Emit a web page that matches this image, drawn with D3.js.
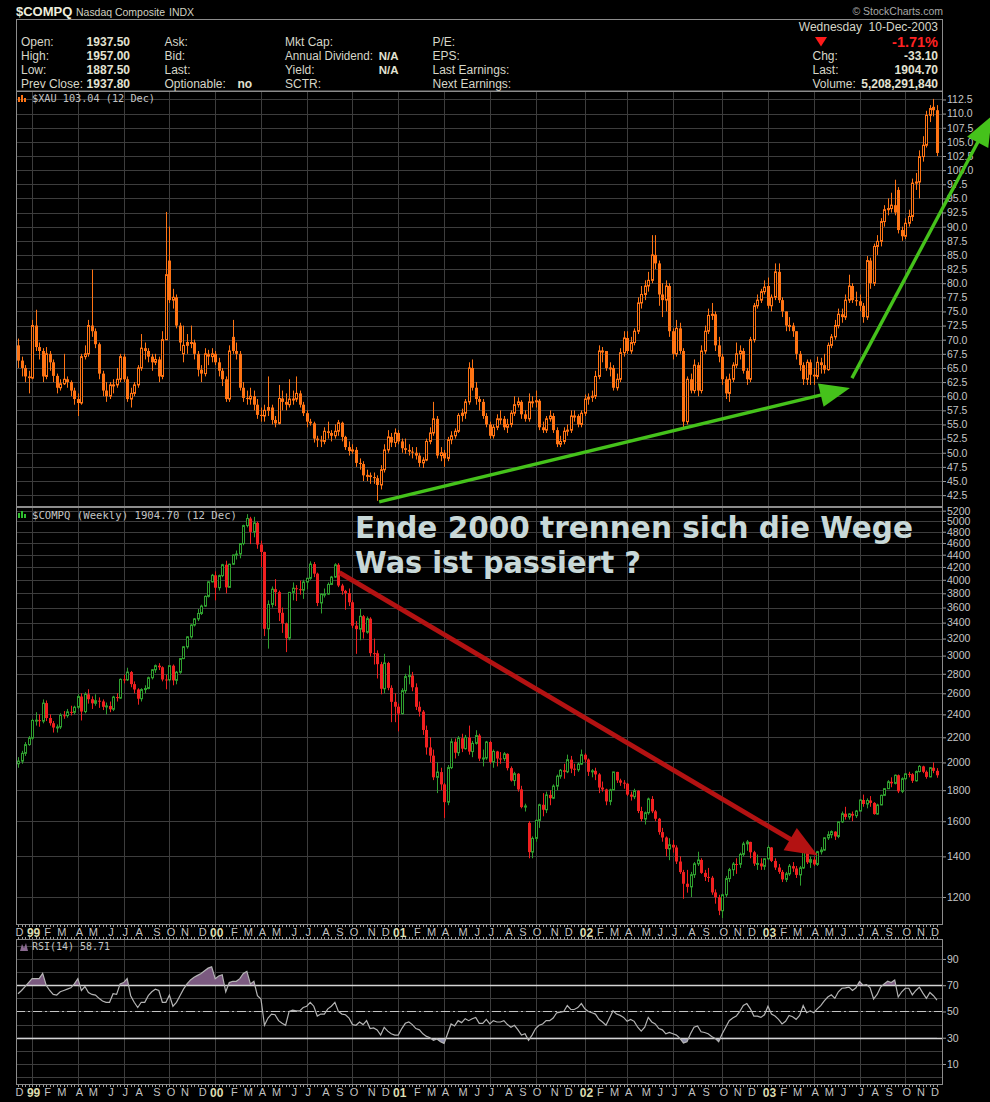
<!DOCTYPE html>
<html>
<head>
<meta charset="utf-8">
<title>$COMPQ vs $XAU</title>
<script src="https://cdn.jsdelivr.net/npm/d3@7/dist/d3.min.js"></script>
<style>
html,body{margin:0;padding:0;background:#000;}
svg{display:block;}
</style>
</head>
<body>
<svg id="chart" width="990" height="1102"></svg>
<script>
// ================= DATA =================
const firstWeek = "1998-12-07";            // Monday of the first weekly bar
const xDomain = ["1998-12-03", "2003-12-20"];
const monthLetters = ["J","F","M","A","M","J","J","A","S","O","N","D"];

const xauTicks = [42.5,45,47.5,50,52.5,55,57.5,60,62.5,65,67.5,70,72.5,75,77.5,80,82.5,85,87.5,90,92.5,95,97.5,100,102.5,105,107.5,110,112.5];
const compqTicks = [1200,1400,1600,1800,2000,2200,2400,2600,2800,3000,3200,3400,3600,3800,4000,4200,4400,4600,4800,5000,5200];
const rsiTicks = [10,30,50,70,90];
const rsiGrid = [0,10,20,30,40,50,60,70,80,90,100];
const xauRange = [40.4, 114.0];
const compqRange = [1079, 5273];
const rsiRange = [-6, 105.2];

// $COMPQ weekly
const compqOpen = [1990,2010,2070,2140,
2193,2345,2348,2339, 2505,2367,2321,2283, 2288,2392,2389,2423,2419, 2466,2568,2426,2590, 2542,2503,2528,2521, 2470,2478,2447,2563, 2553,2741,2736,2818,2692, 2638,2547,2637,2648, 2758,2843,2887,2870, 2740,2736,2887,2731,2816, 2966,3102,3221,3369, 3448,3520,3620,3755,3969,
4069,3882,4064,4235, 3887,4244,4395,4411, 4590,4914,5048,4798,4964, 4573,4446,3321,3643, 3860,3817,3529,3390, 3205,3813,3874,3860,3845, 3966,4023,4246,4094, 3663,3787,3789,3930, 4042,4234,3914,3835,3803, 3673,3361,3317,3483, 3278,3451,3028,3027, 2904,2645,2917,2654,2517,
2471,2407,2626,2770, 2781,2660,2470,2425, 2262,2117,2052,1890,1928, 1840,1720,1961,2163, 2075,2192,2107,2199, 2084,2150,2215,2029,2034, 2161,2004,2085,2030, 2029,2066,1957,1867,1916, 1805,1688,1590,1423, 1499,1605,1703,1671, 1768,1746,1828,1898,1941, 1930,2021,1953,1945,
1987,2059,2022,1930, 1937,1911,1818,1805,1725, 1802,1929,1868,1852, 1845,1770,1756,1796, 1663,1613,1652,1741,1661, 1615,1535,1504,1440, 1463,1448,1373,1319, 1262,1247,1306,1361,1381, 1315,1295,1291,1221, 1199,1139,1210,1287,1331, 1360,1359,1411,1468, 1479,1422,1362,1363,
1348,1387,1448,1376,1342, 1320,1283,1310,1349, 1337,1305,1340,1421, 1369,1383,1358,1425, 1434,1502,1520,1538,1510, 1596,1646,1626,1645, 1634,1663,1734,1708, 1731,1715,1644,1702,1765, 1810,1858,1847,1905, 1792,1880,1915,1912,1865, 1932,1970,1930,1893, 1960,1937];

const compqHigh = [2040,2090,2160,2210,
2360,2420,2400,2540, 2530,2400,2340,2310, 2410,2430,2450,2480,2480, 2590,2600,2610,2640, 2570,2590,2560,2540, 2510,2520,2575,2600, 2750,2790,2865,2830,2720, 2650,2650,2680,2770, 2850,2900,2915,2880, 2790,2890,2900,2830,2970, 3110,3230,3380,3460, 3580,3640,3770,3980,4090,
4130,4080,4250,4300, 4250,4400,4470,4600, 4930,5132,5080,5080,4990, 4640,4450,3700,3900, 4010,3840,3600,3400, 3820,3960,3920,3990,4000, 4030,4290,4280,4110, 3800,3870,3960,4060, 4260,4260,3940,3850,3870, 3700,3420,3580,3500, 3480,3470,3200,3060, 2930,3020,2930,2680,2600,
2500,2650,2800,2890, 2820,2700,2520,2440, 2300,2200,2100,2000,1960, 1850,1980,2190,2190, 2210,2230,2220,2300, 2170,2260,2230,2100,2170, 2170,2100,2090,2080, 2080,2070,1970,1930,1920, 1830,1710,1600,1510, 1610,1710,1780,1790, 1800,1840,1910,1950,1990, 2060,2050,1990,2000,
2100,2070,2030,1950, 1960,1920,1860,1810,1810, 1930,1930,1880,1870, 1850,1790,1810,1800, 1690,1660,1750,1760,1670, 1620,1560,1510,1500, 1490,1460,1400,1330, 1330,1320,1370,1425,1390, 1330,1340,1300,1235, 1210,1215,1300,1340,1370, 1390,1420,1480,1490, 1480,1430,1410,1390,
1390,1460,1450,1390,1360, 1330,1320,1360,1370, 1350,1350,1430,1425, 1400,1400,1430,1450, 1505,1540,1545,1540,1600, 1660,1690,1650,1660, 1670,1740,1770,1745, 1760,1720,1710,1770,1815, 1870,1890,1910,1910, 1890,1920,1930,1920,1940, 1980,1975,1940,1965, 2000,1957];

const compqLow = [1960,1990,2050,2130,
2180,2300,2290,2320, 2340,2300,2240,2240, 2270,2360,2370,2390,2400, 2450,2345,2410,2500, 2450,2480,2460,2440, 2400,2420,2430,2520, 2545,2700,2725,2660,2600, 2490,2520,2600,2640, 2740,2810,2840,2720, 2640,2720,2680,2690,2800, 2960,3080,3200,3350, 3420,3500,3610,3740,3960,
3700,3840,4040,3800, 3880,4230,4320,4340, 4560,4880,4580,4700,4500, 4200,3230,3080,3600, 3620,3420,3270,3040, 3180,3700,3690,3780,3720, 3860,4000,4040,3620, 3520,3740,3780,3920, 4030,3890,3780,3570,3620, 3330,3020,3180,3200, 3260,2990,2900,2750, 2590,2600,2630,2330,2330,
2250,2400,2600,2690, 2620,2440,2380,2220, 2060,2000,1870,1780,1800, 1620,1700,1950,2030, 2050,2080,2100,2060, 2040,2140,2010,1970,2020, 1990,1960,1970,1990, 2010,1940,1860,1830,1790, 1680,1660,1390,1390, 1480,1560,1630,1650, 1700,1740,1800,1880,1880, 1920,1920,1900,1930,
1980,2000,1900,1890, 1870,1780,1790,1700,1700, 1800,1850,1830,1810, 1760,1730,1740,1650, 1600,1580,1640,1650,1600, 1520,1480,1400,1380, 1420,1360,1310,1192, 1220,1200,1290,1350,1310, 1275,1270,1210,1170, 1120,1108,1200,1270,1300, 1310,1340,1400,1430, 1390,1350,1330,1330,
1330,1380,1370,1330,1310, 1270,1270,1300,1320, 1290,1253,1335,1360, 1340,1350,1350,1410, 1430,1490,1500,1490,1500, 1590,1610,1610,1600, 1620,1660,1690,1680, 1690,1640,1640,1700,1760, 1810,1820,1840,1780, 1780,1870,1890,1850,1860, 1925,1920,1880,1890, 1920,1887];

const compqClose = [2010,2070,2140,2193,
2345,2348,2339,2505, 2367,2321,2283,2288, 2392,2389,2423,2419,2466, 2568,2426,2590,2542, 2503,2528,2521,2470, 2478,2447,2563,2553, 2741,2736,2818,2692,2638, 2547,2637,2648,2758, 2843,2887,2870,2740, 2736,2887,2731,2816,2966, 3102,3221,3369,3448, 3520,3620,3755,3969,4069,
3882,4064,4235,3887, 4244,4395,4411,4590, 4914,5048,4798,4964,4573, 4446,3321,3643,3860, 3817,3529,3390,3205, 3813,3874,3860,3845,3966, 4023,4246,4094,3663, 3787,3789,3930,4042, 4234,3914,3835,3803,3673, 3361,3317,3483,3278, 3451,3028,3027,2904, 2645,2917,2654,2517,2471,
2407,2626,2770,2781, 2660,2470,2425,2262, 2117,2052,1890,1928,1840, 1720,1961,2163,2075, 2192,2107,2199,2084, 2150,2215,2029,2034,2161, 2004,2085,2030,2029, 2066,1957,1867,1916,1805, 1688,1695,1423,1499, 1605,1703,1671,1768, 1746,1828,1898,1941,1930, 2021,1953,1945,1987,
2059,2022,1930,1937, 1911,1818,1805,1725,1802, 1929,1868,1852,1845, 1770,1756,1796,1663, 1613,1652,1741,1661,1615, 1535,1504,1440,1463, 1448,1373,1319,1262, 1247,1306,1361,1381,1315, 1295,1291,1221,1199, 1139,1210,1287,1331,1360, 1359,1411,1468,1479, 1422,1362,1363,1348,
1387,1448,1376,1342,1320, 1283,1310,1349,1337, 1305,1340,1421,1369, 1383,1358,1425,1434, 1502,1520,1538,1510,1596, 1646,1626,1645,1634, 1663,1734,1708,1731, 1715,1644,1702,1765,1810, 1858,1847,1905,1792, 1880,1915,1912,1865,1932, 1970,1930,1893,1960, 1937,1904.7];

// $XAU weekly
const xauOpen = [69.0,66.3,65.0,63.5,63.2,72.5,68.7,68.0,63.5,67.5,
66.0,63.6,61.5,62.2,63.0,62.5,61.0,59.5,58.8,67.0,
67.5,72.5,71.5,69.2,64.0,61.0,60.0,62.0,62.0,63.0,
67.0,63.0,59.5,60.5,62.0,65.0,68.5,68.0,67.0,66.0,
66.5,63.5,70.0,84.0,77.0,77.5,72.5,67.5,69.0,69.5,
69.5,67.5,64.7,64.0,67.5,67.0,67.5,66.0,64.5,63.0,
59.5,70.5,68.0,67.5,61.5,59.7,59.5,60.0,58.5,56.7,
56.5,57.5,58.0,55.8,55.2,59.6,59.0,58.5,59.5,59.5,
60.5,58.5,57.0,55.5,55.2,52.5,52.2,52.0,53.8,53.5,
53.0,53.8,55.3,52.8,51.0,50.3,50.5,48.2,48.0,46.0,
46.0,45.7,45.5,44.3,47.0,50.5,52.8,51.8,53.5,52.0,
50.8,50.5,50.2,50.0,49.5,48.2,48.7,52.0,53.5,56.0,
49.5,50.0,49.0,52.3,53.0,53.8,56.6,57.0,59.0,65.0,
61.5,59.5,59.0,56.5,55.0,53.0,54.5,56.0,56.0,54.5,
55.0,57.0,58.5,59.0,56.8,56.0,59.0,59.0,59.2,54.5,
54.0,56.0,56.5,54.0,51.5,52.0,53.8,54.0,56.5,56.5,
55.0,57.0,59.5,59.8,60.0,63.5,68.0,68.0,65.0,65.0,
61.5,63.0,67.7,70.3,68.0,69.5,71.5,76.5,78.0,79.5,
80.5,85.0,83.5,78.0,77.0,79.5,71.5,67.5,72.0,68.0,
55.5,63.0,61.0,65.5,61.0,68.0,71.5,74.3,74.5,69.0,
67.0,63.0,60.5,63.0,65.5,67.5,68.0,64.5,63.0,70.0,
76.0,77.0,78.5,79.5,76.0,77.5,82.0,77.0,75.0,72.5,
72.5,71.5,67.5,65.5,63.0,66.0,63.8,63.5,66.0,65.5,
64.7,69.0,70.5,72.5,74.5,74.0,77.0,79.5,77.0,76.8,
76.0,74.0,84.0,80.0,86.5,87.4,90.9,93.0,93.2,93.8,
96.5,89.4,88.3,90.6,91.8,97.7,97.9,102.4,104.4,109.7,111.2,110.6];

const xauHigh = [70.2,67.0,65.5,64.5,73.5,75.3,69.5,68.5,68.7,68.0,
66.5,64.0,63.0,67.5,63.5,62.8,61.5,60.5,67.5,69.0,
73.5,82.4,72.0,69.5,64.5,62.5,62.5,63.0,65.0,67.5,
67.5,63.5,61.5,62.5,65.5,71.0,69.5,68.5,67.5,67.5,
67.0,71.5,92.6,90.0,79.0,78.0,73.0,72.5,71.0,72.5,
70.0,68.0,65.5,68.5,68.2,68.5,68.0,66.8,65.0,63.5,
69.0,73.5,69.5,68.0,62.5,61.0,61.5,61.0,59.5,58.0,
58.5,63.5,58.5,56.5,62.0,61.0,60.5,63.0,61.0,63.5,
61.0,59.0,57.5,56.0,55.5,53.0,53.0,54.5,55.5,54.0,
55.0,55.8,55.5,53.0,52.0,51.5,51.0,49.0,48.5,47.0,
46.5,46.5,46.0,47.8,51.5,54.0,53.5,54.3,54.0,52.5,
52.5,51.5,51.0,51.0,50.0,49.2,52.5,54.5,59.0,56.5,
51.0,50.5,52.8,53.8,54.3,57.0,57.8,59.5,66.0,66.5,
62.5,60.0,59.5,57.0,55.5,55.0,56.8,57.5,56.5,56.0,
57.5,60.0,59.8,59.3,57.5,60.5,60.0,61.0,59.5,55.5,
56.5,57.5,57.0,54.5,53.0,54.5,55.0,57.5,57.5,56.8,
57.5,60.3,60.5,61.0,64.5,69.0,68.7,68.0,66.0,65.5,
64.0,68.5,71.5,71.5,70.5,72.0,77.5,79.5,80.5,82.0,
88.5,88.5,84.0,80.0,80.5,80.0,72.0,73.5,73.0,68.5,
63.5,64.0,66.5,66.0,69.0,72.5,75.5,76.5,75.0,70.5,
67.5,63.5,64.0,66.0,69.5,69.0,68.5,65.0,70.5,76.5,
78.0,79.0,80.5,81.0,78.0,83.5,83.5,77.5,75.0,74.0,
73.0,71.5,68.0,66.0,66.5,66.5,65.0,67.0,66.8,67.5,
69.5,71.0,73.5,75.5,75.5,78.0,81.5,80.0,78.5,78.0,
76.5,84.8,84.5,87.0,88.5,91.5,93.8,95.0,96.0,98.3,
97.0,90.0,91.5,93.0,98.5,99.5,103.5,106.0,110.5,111.5,112.6,111.5];

const xauLow = [65.0,63.5,62.5,60.5,63.0,68.0,66.5,62.5,63.0,64.5,
62.5,60.5,61.0,62.0,61.5,60.0,58.5,56.5,58.5,66.5,
67.0,70.5,68.5,63.0,60.0,59.0,59.5,60.5,61.5,62.5,
62.5,59.0,58.0,60.0,61.5,64.5,66.5,66.0,64.5,65.5,
62.5,63.0,70.0,76.5,75.5,72.0,68.0,66.0,67.5,68.5,
66.5,63.5,62.5,63.5,65.5,66.0,65.5,63.5,61.8,59.0,
59.0,67.5,66.5,61.0,59.0,58.5,58.5,57.5,56.0,55.5,
55.5,56.5,55.0,54.5,55.0,57.5,57.5,58.0,58.5,59.0,
58.0,56.5,54.5,54.8,51.8,51.0,51.0,51.5,52.5,52.0,
52.5,53.0,52.0,50.5,49.5,49.8,47.5,47.0,45.0,45.0,
44.5,44.5,41.5,43.5,46.5,50.0,51.0,51.0,51.5,50.0,
49.8,49.5,49.0,48.8,47.5,47.3,48.5,51.5,53.0,49.0,
48.5,47.5,48.5,51.5,52.5,53.5,55.5,56.0,58.5,61.0,
58.5,57.5,56.0,54.5,52.5,52.5,54.0,55.0,54.0,53.5,
54.5,56.5,58.0,56.0,55.5,55.5,58.0,58.0,54.0,53.5,
53.5,55.5,53.5,51.0,51.0,51.5,53.0,53.5,55.5,54.5,
54.5,56.5,58.5,59.0,59.5,63.0,66.0,64.5,63.5,61.0,
61.0,62.5,67.0,67.5,67.5,69.0,71.0,75.5,77.0,78.5,
80.0,82.5,76.0,74.0,75.0,70.5,66.5,67.0,67.5,54.5,
55.0,60.5,60.5,60.0,60.5,67.5,71.0,73.5,68.0,66.0,
62.0,59.5,59.0,62.5,65.0,66.5,64.0,62.0,62.5,69.5,
75.5,76.5,78.0,75.5,75.0,77.0,76.5,74.0,71.5,71.5,
70.5,66.5,64.5,62.0,62.0,62.0,62.0,63.0,64.0,64.0,
64.5,68.5,70.0,72.0,73.0,73.5,76.5,76.5,76.0,75.0,
73.0,73.5,79.0,79.5,85.0,86.5,90.0,92.0,92.5,92.0,
88.8,87.5,87.8,90.0,91.0,96.5,95.0,101.5,104.0,108.5,109.5,102.5];

const xauClose = [66.3,65.0,63.5,63.2,72.5,68.7,68.0,63.5,67.5,66.0,
63.6,61.5,62.2,63.0,62.5,61.0,59.5,58.8,67.0,67.5,
72.5,71.5,69.2,64.0,61.0,60.0,62.0,62.0,63.0,67.0,
63.0,59.5,60.5,62.0,65.0,68.5,68.0,67.0,66.0,66.5,
63.5,70.0,81.5,77.0,77.5,72.5,69.5,69.0,69.5,69.5,
67.5,64.7,64.0,67.5,67.0,67.5,66.0,64.5,63.0,59.5,
68.0,68.0,67.5,61.5,59.7,59.5,60.0,58.5,56.7,56.5,
57.5,58.0,55.8,55.2,59.6,59.0,58.5,59.5,59.5,60.5,
58.5,57.0,55.5,55.2,52.5,52.2,52.0,53.8,53.5,53.0,
53.8,55.3,52.8,51.0,50.3,50.5,48.2,48.0,46.0,46.0,
45.7,45.5,44.3,47.0,50.5,52.8,51.8,53.5,52.0,50.8,
50.5,50.2,50.0,49.5,48.2,48.7,52.0,53.5,56.0,49.5,
50.0,49.0,52.3,53.0,53.8,56.6,57.0,59.0,65.0,61.5,
59.5,59.0,56.5,55.0,53.0,54.5,56.0,56.0,54.5,55.0,
57.0,58.5,59.0,56.8,56.0,59.0,59.0,59.2,54.5,54.0,
56.0,56.5,54.0,51.5,52.0,53.8,54.0,56.5,56.5,55.0,
57.0,59.5,59.8,60.0,63.5,68.0,68.0,65.0,65.0,61.5,
63.0,67.7,70.3,68.0,69.5,71.5,76.5,78.0,79.5,80.5,
85.0,83.5,78.0,77.0,79.5,71.5,67.5,72.0,68.0,55.5,
63.0,61.0,65.5,61.0,68.0,71.5,74.3,74.5,69.0,67.0,
63.0,60.5,63.0,65.5,67.5,68.0,64.5,63.0,70.0,76.0,
77.0,78.5,79.3,76.0,77.5,82.0,77.0,75.0,72.5,72.5,
71.5,67.5,65.5,63.0,66.0,63.8,63.5,66.0,65.5,64.7,
69.0,70.5,72.5,74.5,74.0,77.0,79.5,77.0,76.8,76.0,
74.0,84.0,80.0,86.5,87.4,90.9,93.0,93.2,93.8,92.5,
89.4,88.3,90.6,91.8,97.7,97.9,102.4,104.4,109.7,110.9,110.6,103.04];

// RSI(14) of $COMPQ weekly
const rsi = [63.5,66,69,72,75,75,75,79,
70,66,63,62.5,65,66,67,68,71,75,
66,69,64.5,63,62.5,60,58,57,57,63.5,
63,71,72,75,62,57,53,57,57,62,
65,67,66,57,57,62.5,54,57,62,67,
71,74,76,77.5,79,81,83,84,75,77,
78,65,72,73,73,75,79,80.5,71,73,
62,59.5,39.5,45,48,47.5,43,41,39.5,50,
51,50.5,50.5,53,54,57,54,46.5,48,48,
52,54,57,50,48,47.5,45,40,39.5,42,
40,43,37,37.5,36,32,38,35,33,32,
32,37,41,42,40,37,36,33,31,30,
28,29,27,25.7,33,40.5,39,43,41.5,44.5,
43,44.5,45.5,41,41,44,40.5,43,42,42,
43,40,38,39.5,36,32,33,28,32,37,
39.5,40.5,43,43,45,49,49.5,50,54.5,51.5,
51.5,53,56,52,50,49,48,44,42,39.5,
45,50.5,48,47,45.5,42.5,44,42.5,38,35,
38,45.5,42,40.5,37,36,33,34,33,32,
29.5,26,27,33,38,39,34.5,34,33,31,
29.5,27,33,38,43,45,46.5,50,54.5,56,
52,46.5,46.5,45.5,47.5,54,48,46.5,44,40.5,
42.5,47,46,44,47,54.5,49,50.5,49,52,
54.5,58,61,62.7,60,65,67.7,68,68.5,66,
68,72.8,70,70.5,68,59.5,63,68.5,71,73,
72,74,61,65,67.7,67.7,62.7,66,68.5,64,
60,64.5,62,58.71];

// annotations (date, value) drawn on the chart by hand in the original
const redArrow    = {from: ["2000-09-06", 4110], to: ["2003-04-15", 1405]};
const greenArrow1 = {from: ["2000-11-24", 41.3], to: ["2003-06-18", 61.45]};
const greenArrow2 = {from: ["2003-06-22", 63.2], to: ["2004-03-26", 109.6]};
const noteLines = ["Ende 2000 trennen sich die Wege", "Was ist passiert ?"];

// header texts
const hdrCol1 = [["Open:","1937.50"],["High:","1957.00"],["Low:","1887.50"],["Prev Close:","1937.80"]];
const hdrCol2 = [["Ask:",""],["Bid:",""],["Last:",""],["Optionable:","no"]];
const hdrCol3 = [["Mkt Cap:",""],["Annual Dividend:","N/A"],["Yield:","N/A"],["SCTR:",""]];
const hdrCol4 = ["P/E:","EPS:","Last Earnings:","Next Earnings:"];
const hdrRight = [["Chg:","-33.10"],["Last:","1904.70"],["Volume:","5,208,291,840"]];

// ================= DRAWING =================
const FONT = "'Liberation Sans', Arial, Helvetica, sans-serif";
const MONO = "'DejaVu Sans Mono', 'Liberation Mono', monospace";
const GRID = "#3d3d3d", BORDER = "#8c8c8c", AXTXT = "#c6c6c6", HDR = "#d6d6c8";
const L = 16, R = 943;
const P = { xau:{top:91, bot:507}, comp:{top:507, bot:925}, rsi:{top:939, bot:1085} };

const parse = d3.timeParse("%Y-%m-%d");
const n = Math.min(compqClose.length, xauClose.length, rsi.length);
const t0 = parse(firstWeek);
const dates = d3.range(n).map(i => d3.timeDay.offset(t0, 7*i));

const x  = d3.scaleTime().domain(xDomain.map(parse)).range([L, R]);
const yX = d3.scaleLinear().domain(xauRange).range([P.xau.bot, P.xau.top]);
const yC = d3.scaleLog().domain(compqRange).range([P.comp.bot, P.comp.top]);
const yR = d3.scaleLinear().domain(rsiRange).range([P.rsi.bot, P.rsi.top]);

const svg = d3.select("#chart");
svg.append("rect").attr("width",990).attr("height",1102).attr("fill","#000");
const defs = svg.append("defs");
function clipRect(id, x0, y0, w, h){
  defs.append("clipPath").attr("id", id).append("rect")
    .attr("x", x0).attr("y", y0).attr("width", w).attr("height", h);
}
clipRect("clipX", L, P.xau.top, R-L, P.xau.bot-P.xau.top);
clipRect("clipC", L, P.comp.top, R-L, P.comp.bot-P.comp.top);
clipRect("clipR", L, P.rsi.top, R-L, P.rsi.bot-P.rsi.top);
clipRect("clipHi", L, P.rsi.top, R-L, yR(70)-P.rsi.top);
clipRect("clipLo", L, yR(30), R-L, P.rsi.bot-yR(30));

function txt(g, x0, y0, s, o = {}){
  const t = g.append("text").attr("x", x0).attr("y", y0).text(s)
    .attr("font-family", o.ff || FONT).attr("font-size", o.fs || 12)
    .attr("fill", o.fill || HDR).attr("font-weight", o.fw || "normal")
    .attr("text-anchor", o.anchor || "start");
  if (o.tl) t.attr("textLength", o.tl).attr("lengthAdjust", "spacingAndGlyphs");
  if (o.pre) t.attr("xml:space","preserve").style("white-space","pre");
  return t;
}

// month / quarter positions (first weekly bar of each month)
const monthStarts = d3.timeMonth.range(d3.timeMonth.floor(dates[0]), d3.timeMonth.offset(dates[n-1], 1));
const monthBars = monthStarts.map(m => dates.find(d => d >= m && d.getMonth() === m.getMonth() && d.getFullYear() === m.getFullYear())).filter(Boolean);
const quarterBars = monthBars.filter(d => d.getMonth() % 3 === 0);
const px = d => Math.round(x(d)) + 0.5;

// ---------- header ----------
const gh = svg.append("g");
txt(gh, 16, 15.5, "$COMPQ", {fs:13, fw:"bold", fill:"#eeeedd"});
txt(gh, 76, 15.5, "Nasdaq Composite", {fs:10.5, fill:"#d0d0c0", tl:89});
txt(gh, 169, 15.5, "INDX", {fs:10.5, fill:"#d0d0c0"});
txt(gh, 943, 15, "\u00A9 StockCharts.com", {fs:10.5, fill:"#a8a8a8", anchor:"end"});
gh.append("rect").attr("x", L+0.5).attr("y", 19.5).attr("width", R-L-1).attr("height", P.xau.top-19.5)
  .attr("fill","none").attr("stroke", BORDER);
const rowY = [45.5, 60, 74.3, 88.3];
hdrCol1.forEach((r,i) => { txt(gh, 21, rowY[i], r[0]); txt(gh, 130, rowY[i], r[1], {fw:"bold", anchor:"end", fill:"#e2e2d2"}); });
hdrCol2.forEach((r,i) => { txt(gh, 164.5, rowY[i], r[0]); if (r[1]) txt(gh, 237.5, rowY[i], r[1], {fw:"bold", fill:"#e2e2d2"}); });
hdrCol3.forEach((r,i) => { txt(gh, 285, rowY[i], r[0], {tl: r[0].length > 10 ? 88 : null}); if (r[1]) txt(gh, 398.5, rowY[i], r[1], {fw:"bold", anchor:"end", fill:"#e2e2d2", fs:11.5}); });
hdrCol4.forEach((s,i) => txt(gh, 432.5, rowY[i], s));
txt(gh, 938, 30.5, "Wednesday  10-Dec-2003", {anchor:"end", pre:true});
gh.append("path").attr("d", d3.line()([[815,37],[827,37],[821,46.5]]) + "Z").attr("fill", "#ff1a1a");
txt(gh, 938, 46.5, "-1.71%", {fs:14.5, fw:"bold", anchor:"end", fill:"#ff2222"});
hdrRight.forEach((r,i) => { txt(gh, 812.5, rowY[i+1], r[0]); txt(gh, 938, rowY[i+1], r[1], {fw:"bold", anchor:"end", fill:"#e2e2d2"}); });

// ---------- grids ----------
function grid(p, yScale, vals){
  const g = svg.append("g");
  g.selectAll("line.h").data(vals).join("line").attr("class","h")
    .attr("x1", L).attr("x2", R)
    .attr("y1", d => Math.round(yScale(d)) + 0.5).attr("y2", d => Math.round(yScale(d)) + 0.5)
    .attr("stroke", GRID);
  g.selectAll("line.v").data(quarterBars).join("line").attr("class","v")
    .attr("x1", px).attr("x2", px).attr("y1", p.top).attr("y2", p.bot)
    .attr("stroke", GRID);
}
grid(P.xau, yX, xauTicks);
grid(P.comp, yC, compqTicks);
grid(P.rsi, yR, rsiGrid);

// ---------- candles ----------
function candles(clipId, yScale, O, Hh, Lw, C, upCol, dnCol){
  const data = d3.range(n).map(i => ({d:dates[i], o:O[i], h:Hh[i], l:Lw[i], c:C[i]}));
  const g = svg.append("g").attr("clip-path", `url(#${clipId})`);
  const b = g.selectAll("g").data(data).join("g");
  b.append("line")
    .attr("x1", d => px(d.d)).attr("x2", d => px(d.d))
    .attr("y1", d => yScale(d.h)).attr("y2", d => yScale(d.l))
    .attr("stroke", d => d.c >= d.o ? upCol : dnCol).attr("stroke-width", 1);
  b.append("rect")
    .attr("x", d => d.c >= d.o ? Math.round(x(d.d)) - 0.5 : Math.round(x(d.d)) - 1)
    .attr("width", d => d.c >= d.o ? 2 : 3)
    .attr("y", d => yScale(Math.max(d.o, d.c)))
    .attr("height", d => Math.max(1, yScale(Math.min(d.o, d.c)) - yScale(Math.max(d.o, d.c))))
    .attr("fill", d => d.c >= d.o ? "#000" : dnCol)
    .attr("stroke", d => d.c >= d.o ? upCol : "none").attr("stroke-width", 1);
}
candles("clipX", yX, xauOpen, xauHigh, xauLow, xauClose, "#ff7414", "#ff7414");
candles("clipC", yC, compqOpen, compqHigh, compqLow, compqClose, "#2f9f2f", "#f02020");

// ---------- RSI ----------
const rd = dates.map((d,i) => ({d, v:rsi[i]}));
const gR = svg.append("g").attr("clip-path", "url(#clipR)");
gR.append("path").datum(rd).attr("d", d3.area().x(d => x(d.d)).y1(d => yR(d.v)).y0(yR(70)))
  .attr("fill", "#7b5a80").attr("clip-path","url(#clipHi)");
gR.append("path").datum(rd).attr("d", d3.area().x(d => x(d.d)).y1(d => yR(d.v)).y0(yR(30)))
  .attr("fill", "#8a8aa6").attr("clip-path","url(#clipLo)");
[70, 30].forEach(v => gR.append("line").attr("x1", L).attr("x2", R)
  .attr("y1", Math.round(yR(v))+0.5).attr("y2", Math.round(yR(v))+0.5)
  .attr("stroke", "#d4d4d4").attr("stroke-width", 1.4));
gR.append("line").attr("x1", L).attr("x2", R)
  .attr("y1", Math.round(yR(50))+0.5).attr("y2", Math.round(yR(50))+0.5)
  .attr("stroke", "#c4c4c4").attr("stroke-width", 1.2).attr("stroke-dasharray", "9,3,2,3");
gR.append("path").datum(rd).attr("d", d3.line().x(d => x(d.d)).y(d => yR(d.v)))
  .attr("fill", "none").attr("stroke", "#b4b4b4").attr("stroke-width", 1.2);

// ---------- panel borders ----------
[P.xau, P.comp, P.rsi].forEach(p => svg.append("rect")
  .attr("x", L+0.5).attr("y", p.top+0.5).attr("width", R-L-1).attr("height", p.bot-p.top-1)
  .attr("fill", "none").attr("stroke", BORDER));

// weekly tick marks along the time axes
function weekTicks(y0, dir){
  svg.append("g").selectAll("line").data(dates).join("line")
    .attr("x1", px).attr("x2", px).attr("y1", y0).attr("y2", y0 + 2*dir)
    .attr("stroke", "#9a9a9a");
}
weekTicks(P.comp.bot, 1); weekTicks(P.rsi.top, -1); weekTicks(P.rsi.bot, 1);

// ---------- axes ----------
function yAxis(yScale, ticks, fmt){
  const ax = d3.axisRight(yScale).tickValues(ticks).tickFormat(fmt).tickSize(3).tickPadding(1);
  const g = svg.append("g").attr("transform", `translate(${R},0)`).call(ax);
  g.select(".domain").remove();
  g.selectAll(".tick line").attr("stroke", "#9a9a9a");
  g.selectAll("text").attr("fill", AXTXT).attr("font-size", 10.5).attr("font-family", FONT);
}
yAxis(yX, xauTicks, d3.format(".1f"));
yAxis(yC, compqTicks, d3.format("d"));
yAxis(yR, rsiTicks, d3.format("d"));

function xAxis(yPos){
  const ax = d3.axisBottom(x).tickValues(monthBars).tickSize(0).tickPadding(3.6)
    .tickFormat(d => d.getMonth() === 0 ? d3.timeFormat("%y")(d) : monthLetters[d.getMonth()]);
  const g = svg.append("g").attr("transform", `translate(1,${yPos})`).call(ax);
  g.select(".domain").remove();
  g.selectAll("text").attr("font-family", FONT).attr("font-size", 11).attr("fill", "#c2c2c2");
  g.selectAll(".tick").filter(d => d.getMonth() === 0).select("text")
    .attr("font-weight", "bold").attr("fill", "#dcdcb0").attr("font-size", 12);
}
xAxis(P.comp.bot);
xAxis(P.rsi.bot);

// ---------- overlay labels ----------
function candleIcon(x0, y0, col){
  const g = svg.append("g");
  [[0,2,5],[3,0,7],[6,3,4]].forEach(([dx,dy,h]) => {
    g.append("rect").attr("x", x0+dx).attr("y", y0+dy).attr("width", 2).attr("height", h).attr("fill", col);
  });
}
candleIcon(18, 95, "#ff7414");
txt(svg, 32, 102, "$XAU 103.04 (12 Dec)", {ff:MONO, fs:10.5, fill:"#c4c4c4", tl:123});
candleIcon(18, 511, "#2fbf2f");
txt(svg, 32, 519, "$COMPQ (Weekly) 1904.70 (12 Dec)", {ff:MONO, fs:10.5, fill:"#c4c4c4", tl:205});
svg.append("path").attr("d", "M20,951 L22,944 L24,948 L26,943 L28,951 Z").attr("fill", "#8a6a90");
txt(svg, 32, 950, "RSI(14) 58.71", {ff:MONO, fs:10.5, fill:"#c4c4c4", tl:78});

// ---------- annotation arrows ----------
function arrow(a, yScale, col, w, hl, hw){
  const x1 = x(parse(a.from[0])), y1 = yScale(a.from[1]);
  const x2 = x(parse(a.to[0])),   y2 = yScale(a.to[1]);
  const dx = x2 - x1, dy = y2 - y1, len = Math.hypot(dx, dy), ux = dx/len, uy = dy/len;
  const bx = x2 - ux*hl, by = y2 - uy*hl;
  svg.append("line").attr("x1", x1).attr("y1", y1).attr("x2", bx + ux*3).attr("y2", by + uy*3)
    .attr("stroke", col).attr("stroke-width", w).attr("stroke-linecap", "butt");
  svg.append("path").attr("d", d3.line()([[x2,y2],[bx - uy*hw, by + ux*hw],[bx + uy*hw, by - ux*hw]]) + "Z")
    .attr("fill", col);
}
arrow(redArrow, yC, "#b31212", 4.8, 32, 13);
arrow(greenArrow1, yX, "#45c21b", 3.4, 30, 12);
arrow(greenArrow2, yX, "#45c21b", 3.4, 30, 12);

// ---------- big note ----------
const NOTEF = "'DejaVu Sans', Verdana, sans-serif";
txt(svg, 355, 538, noteLines[0], {ff:NOTEF, fs:29.5, fw:"bold", fill:"#c8d8d8", tl:558});
txt(svg, 355, 572.5, noteLines[1], {ff:NOTEF, fs:29.5, fw:"bold", fill:"#c8d8d8", tl:286});
</script>
</body>
</html>
